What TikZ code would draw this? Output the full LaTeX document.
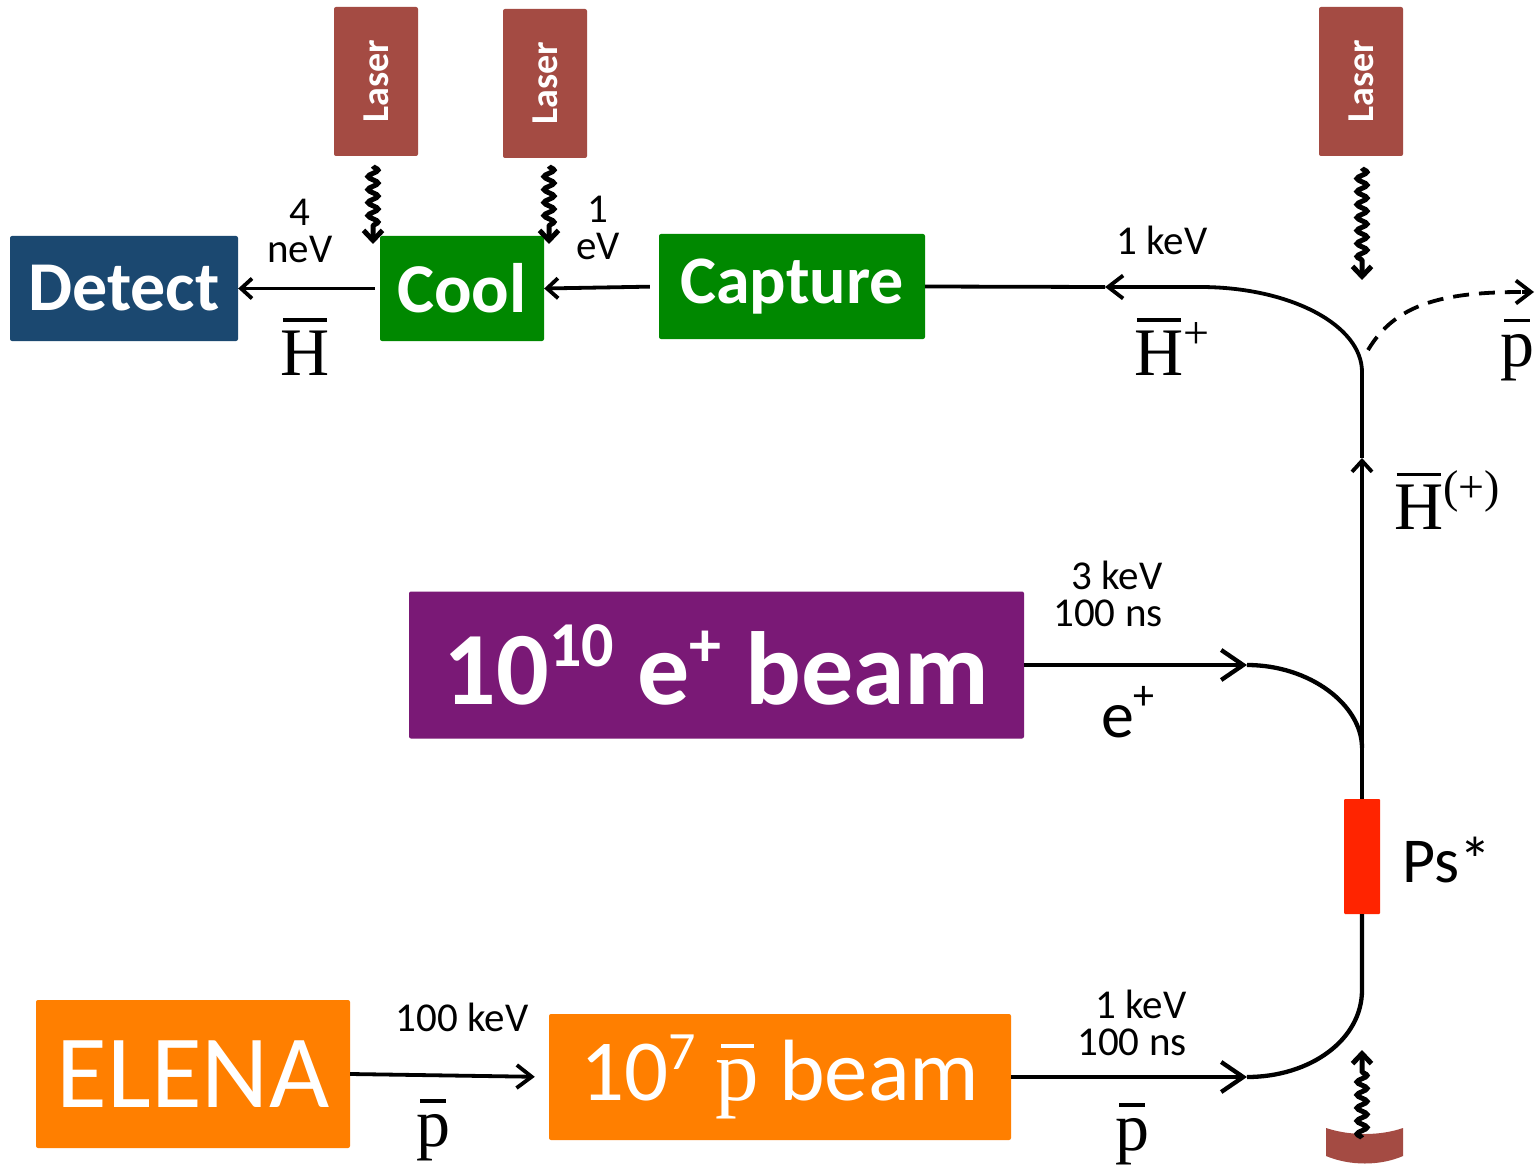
\documentclass[tikz,border=0pt]{standalone}
\usepackage{fontspec}
\usepackage{graphicx}
\setmainfont{Carlito}
\newfontfamily\serifTimes{Liberation Serif}
\usetikzlibrary{arrows.meta,decorations.pathmorphing}
\newcommand\myfs[1]{\fontsize{#1}{#1}\selectfont}
\newcommand\barover[3]{\setbox0\hbox{#3}\vbox{\offinterlineskip\hbox to\wd0{\hss\vrule width #2\wd0 height 3.5pt depth 0pt\hss}\kern#1\box0}}
\definecolor{dblue}{RGB}{27,72,112}
\definecolor{cgreen}{RGB}{0,136,0}
\definecolor{laserc}{RGB}{164,75,67}
\definecolor{cpurple}{RGB}{122,25,118}
\definecolor{corange}{RGB}{255,127,0}
\definecolor{cred}{RGB}{255,36,0}
\begin{document}
\begin{tikzpicture}[x=1pt,y=-1pt,
 box/.style={rectangle, rounded corners=2pt, inner sep=0pt, text=white},
 thin3/.style={line width=3.8pt},
 main/.style={line width=4.3pt},
 tipS/.style={-{Straight Barb[length=11pt,width=20pt]}},
 tipM/.style={-{Straight Barb[length=15pt,width=23pt]}},
 tipL/.style={-{Straight Barb[length=22pt,width=30pt]}},
 wave/.style={line width=5pt, decorate, decoration={snake, segment length=13pt, amplitude=5pt, post length=15pt}, -{Straight Barb[length=10pt,width=19pt]}},
 lbl/.style={inner sep=0pt, font=\fontsize{41}{37}\selectfont},
 slbl/.style={inner sep=0pt, font=\serifTimes\myfs{68}},
]
\useasboundingbox (0,0) rectangle (1536,1166);
\fill[white] (0,0) rectangle (1536,1166);

% boxes
\node[box, fill=dblue, minimum width=228pt, minimum height=105pt, font=\bfseries\myfs{70}] (detect) at (124,288.5) {Detect};
\node[box, fill=cgreen, minimum width=164pt, minimum height=105pt, font=\bfseries\myfs{70}] (cool) at (462,288.5) {Cool};
\node[box, fill=cgreen, minimum width=266pt, minimum height=105pt, font=\bfseries\myfs{68}] (capture) at (792,286.5) {Capture};
\node[box, fill=laserc, minimum width=84pt, minimum height=149pt] (laser1) at (376,81.5) {\rotatebox{90}{\bfseries\myfs{38}Laser}};
\node[box, fill=laserc, minimum width=84pt, minimum height=149pt] (laser2) at (545,83.5) {\rotatebox{90}{\bfseries\myfs{38}Laser}};
\node[box, fill=laserc, minimum width=84pt, minimum height=149pt] (laser3) at (1361,81.5) {\rotatebox{90}{\bfseries\myfs{38}Laser}};
\node[box, fill=cpurple, minimum width=615pt, minimum height=147pt, font=\bfseries\myfs{104}] (ebeam) at (716.5,665) {10\raisebox{0.36em}{\myfs{64}10} e\raisebox{0.36em}{\myfs{64}+} beam};
\node[box, fill=corange, minimum width=314pt, minimum height=148pt, font=\myfs{104}] (elena) at (193,1074) {ELENA};
\node[box, fill=corange, minimum width=462pt, minimum height=126pt, font=\myfs{87}] (pbeam) at (780,1077) {10\raisebox{0.36em}{\myfs{54}7} {\serifTimes\barover{12pt}{0.75}{p}} beam};
\node[box, fill=cred, minimum width=36pt, minimum height=115pt, rounded corners=1pt] (ps) at (1362,856.5) {};

% labels
\node[lbl, align=center] (t4) at (300,231) {4\\neV};
\node[lbl, align=center] (t1) at (598,228) {1\\eV};
\node[lbl] (tk1) at (1162,240) {1 keV};
\node[lbl, align=right] (t3k) at (1108,594) {3 keV\\100 ns};
\node[lbl, align=right] (t1k) at (1132,1023) {1 keV\\100 ns};
\node[lbl] (t100) at (462,1017) {100 keV};
\node[slbl] (hbar1) at (305,347) {\barover{9pt}{0.9}{H}};
\node[slbl] (hbarp) at (1172,347) {\barover{9pt}{0.9}{H}\raisebox{0.4em}{\myfs{46}+}};
\node[slbl] (pbar1) at (1517,350) {\barover{12pt}{0.75}{p}};
\node[slbl] (hbarpp) at (1447,500) {\barover{9pt}{0.9}{H}\raisebox{0.4em}{\myfs{46}(+)}};
\node[slbl] (pbar2) at (433,1130) {\barover{12pt}{0.75}{p}};
\node[slbl] (pbar3) at (1132,1134) {\barover{12pt}{0.75}{p}};
\node[inner sep=0pt, font=\myfs{66}] (eplus) at (1128,712) {e\raisebox{0.42em}{\myfs{42}+}};
\node[inner sep=0pt, font=\myfs{64}] (pstar) at (1447,860) {Ps*};

% coordinates
\coordinate (tl) at (1200,287);
\coordinate (a1) at (1105,287);
\coordinate (jn) at (1362,372);
\coordinate (a2) at (1362,458);
\coordinate (e1) at (1247,665);
\coordinate (m1) at (1362,748);
\coordinate (p1) at (1247,1077);
\coordinate (m2) at (1362,990);
\coordinate (d0) at (1368,350);
\coordinate (d1) at (1522,292);
\coordinate (d2) at (1534,292);
\coordinate (w1s) at (373,166); \coordinate (w1e) at (373,244);
\coordinate (w2s) at (549,166); \coordinate (w2e) at (549,244);
\coordinate (w3s) at (1362,168); \coordinate (w3e) at (1362,280);
\coordinate (w4s) at (1362,1138); \coordinate (w4e) at (1362,1050);

% top chain
\draw[thin3, tipS, shorten <=5pt] (cool.west) -- (detect.east);
\draw[thin3, tipS, shorten <=9pt] (capture.west) -- (cool.east);
\draw[thin3] (capture.east) -- (a1);
\draw[thin3, tipM] (tl) -- (a1);
\draw[thin3] (tl) .. controls (1290,287) and (1362,325) .. (jn);
\draw[thin3, dash pattern=on 16pt off 10pt] (d0) .. controls (1395,305) and (1440,292) .. (d1);
\draw[thin3, tipM] (d1) -- (d2);

% vertical
\draw[thin3, tipS] (ps.north) -- (a2);
\draw[thin3] (a2) -- (jn);

% e+ beam
\draw[main, tipL] (ebeam.east) -- (e1);
\draw[main] (e1) .. controls (1310,665) and (1362,705) .. (m1);

% pbar beam
\draw[thin3, tipM, shorten >=14pt] (elena.east) -- (pbeam.west);
\draw[main, tipL] (pbeam.east) -- (p1);
\draw[main] (p1) .. controls (1310,1077) and (1362,1040) .. (m2) -- (ps.south);

% bottom laser cup
\fill[laserc] (1326,1128) .. controls (1350,1136) and (1380,1136) .. (1403,1128) -- (1403,1156) .. controls (1380,1166) and (1350,1166) .. (1326,1156) -- cycle;

% waves
\draw[wave] (w1s) -- (w1e);
\draw[wave] (w2s) -- (w2e);
\draw[wave] (w3s) -- (w3e);
\draw[wave] (w4s) -- (w4e);
\end{tikzpicture}
\end{document}
